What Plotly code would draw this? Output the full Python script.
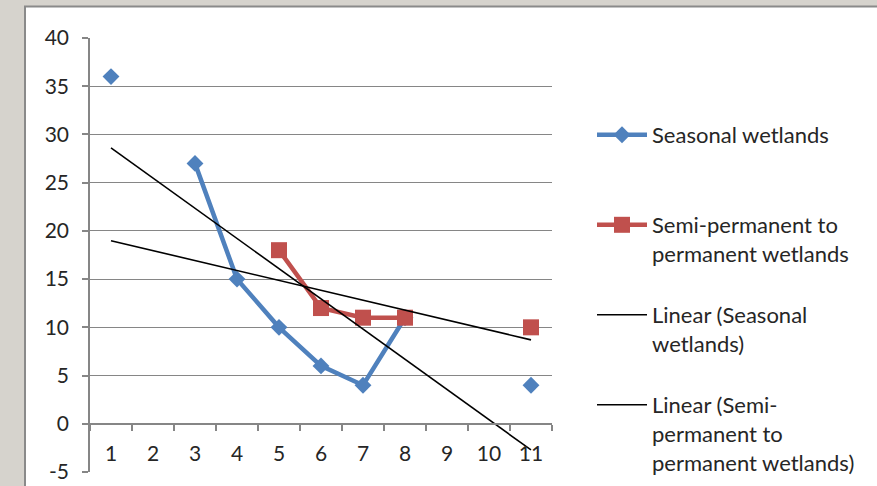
import numpy as np
import plotly.graph_objects as go

categories = [1, 2, 3, 4, 5, 6, 7, 8, 9, 10, 11]
seasonal = [36, None, 27, 15, 10, 6, 4, 11, None, None, 4]
semi_permanent = [None, None, None, None, 18, 12, 11, 11, None, None, 10]
y_ticks = [-5, 0, 5, 10, 15, 20, 25, 30, 35, 40]
y_tick_labels = ["-5", "0", "5", "10", "15", "20", "25", "30", "35", "40"]

names = ["Seasonal wetlands",
         "Semi-permanent to<br>permanent wetlands",
         "Linear (Seasonal<br>wetlands)",
         "Linear (Semi-<br>permanent to<br>permanent wetlands)"]

BLUE = "#4F81BD"
RED = "#C0504D"
GRAY = "#868686"
FONT = "Lato"
W, H = 877, 486
L, R, T, B = 90, 552, 37.5, 472


def fit(vals):
    x = np.array([c for c, v in zip(categories, vals) if v is not None], float)
    y = np.array([v for v in vals if v is not None], float)
    k, b = np.polyfit(x, y, 1)
    xs = np.array([categories[0], categories[-1]], float)
    return xs, k * xs + b


def px_x(p):
    return (p - L) / (R - L)


def px_y(p):
    return (B - p) / (B - T)


fig = go.Figure()
fig.add_trace(go.Scatter(x=categories, y=seasonal, mode="lines+markers", name=names[0],
                         line=dict(color=BLUE, width=4.5),
                         marker=dict(symbol="diamond", size=13, color=BLUE),
                         connectgaps=False, legend="legend"))
fig.add_trace(go.Scatter(x=categories, y=semi_permanent, mode="lines+markers", name=names[1],
                         line=dict(color=RED, width=4.5),
                         marker=dict(symbol="square", size=16, color=RED),
                         connectgaps=False, legend="legend2"))
xs, ys = fit(seasonal)
fig.add_trace(go.Scatter(x=xs, y=ys, mode="lines", name=names[2],
                         line=dict(color="black", width=1.6), legend="legend3"))
xs, ys = fit(semi_permanent)
fig.add_trace(go.Scatter(x=xs, y=ys, mode="lines", name=names[3],
                         line=dict(color="black", width=1.6), legend="legend4"))

lfont = dict(family=FONT, size=22, color="#262626")
common = dict(font=lfont, bgcolor="rgba(0,0,0,0)", borderwidth=0, valign="top",
              xanchor="left", yanchor="top", itemwidth=50, tracegroupgap=0,
              xref="container", yref="container")
legend_px = [(592, 114), (592, 204), (592, 294), (592, 384)]
fig.update_layout(
    legend=dict(x=legend_px[0][0] / W, y=1 - legend_px[0][1] / H, **common),
    legend2=dict(x=legend_px[1][0] / W, y=1 - legend_px[1][1] / H, **common),
    legend3=dict(x=legend_px[2][0] / W, y=1 - legend_px[2][1] / H, **common),
    legend4=dict(x=legend_px[3][0] / W, y=1 - legend_px[3][1] / H, **common),
)

fig.update_xaxes(range=[0.5, 11.5], tickmode="array", tickvals=categories,
                 ticktext=[str(c) for c in categories], ticks="", automargin=False,
                 showgrid=False, zeroline=False, showline=True, linecolor=GRAY, linewidth=1.5,
                 anchor="free", position=(0 - y_ticks[0]) / (y_ticks[-1] - y_ticks[0]),
                 ticklabelstandoff=11,
                 tickfont=dict(family=FONT, size=21, color="#262626"),
                 minor=dict(tickmode="linear", tick0=0.5, dtick=1, ticks="outside",
                            ticklen=6, tickcolor=GRAY, tickwidth=1.5, showgrid=False))
fig.update_yaxes(range=[y_ticks[0], y_ticks[-1]], tickmode="array", tickvals=y_ticks,
                 ticktext=y_tick_labels, automargin=False,
                 showgrid=True, gridcolor=GRAY, gridwidth=1.2, zeroline=False,
                 showline=True, linecolor=GRAY, linewidth=1.5,
                 ticks="outside", ticklen=6, tickcolor=GRAY, tickwidth=1.5,
                 ticklabelstandoff=9,
                 tickfont=dict(family=FONT, size=21, color="#262626"))

fig.add_shape(type="rect", xref="paper", yref="paper",
              x0=px_x(25), x1=px_x(W + 20), y0=px_y(H + 20), y1=px_y(6),
              fillcolor="white", line=dict(color="#8A8A8A", width=2), layer="below")

fig.update_layout(width=W, height=H, margin=dict(l=L, r=W - R, t=T, b=H - B),
                  paper_bgcolor="#D6D3CD", plot_bgcolor="white", showlegend=True,
                  font=dict(family=FONT))
fig.write_html("out.html", config={"displayModeBar": False},
               post_script="document.body.style.margin='0';document.body.style.overflow='hidden';")
